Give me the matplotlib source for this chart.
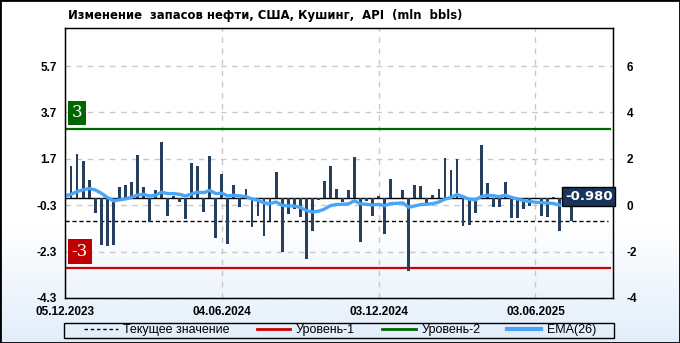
import numpy as np
import pandas as pd
import matplotlib
matplotlib.use("Agg")
import matplotlib.pyplot as plt
from matplotlib.patches import Rectangle
from matplotlib.lines import Line2D
from matplotlib.transforms import blended_transform_factory

title = "Изменение  запасов нефти, США, Кушинг,  API  (mln  bbls)"
start_date = "2023-12-05"

# weekly change, mln bbls
changes = [
    4.30, 1.41, 1.90, 1.59, 0.78, -0.65, -2.03, -2.07, -2.03, 0.50,
    0.56, 0.69, 1.85, 0.50, -1.02, 0.36, 2.41, -0.78, 0.10, -0.17,
    -0.90, 1.51, 1.38, -0.60, 1.81, -1.72, 1.03, -1.98, 0.56, -0.39,
    0.42, -1.25, -0.78, -1.64, -0.96, 1.12, -2.33, -0.69, -0.47, -0.82,
    -2.63, -1.42, -0.08, 0.73, 1.38, 0.42, -0.17, 0.34, 1.77, -1.90,
    -0.13, -0.78, 0.11, -1.55, 0.82, 0.02, 0.34, -3.15, 0.59, 0.52,
    -0.19, 0.13, 0.42, 1.72, 1.21, 1.68, -1.21, -1.16, -0.65, 2.28,
    0.65, -0.39, -0.39, 0.69, -0.86, -0.86, -0.46, -0.34, 0.00, -0.75,
    -0.82, 0.05, -1.42, 0.10, -0.98,
]

ema26 = [
    0.10, 0.17, 0.29, 0.36, 0.42, 0.36, 0.22, 0.04, -0.11, -0.07,
    -0.03, 0.04, 0.14, 0.17, 0.10, 0.13, 0.26, 0.20, 0.20, 0.17,
    0.10, 0.19, 0.26, 0.24, 0.34, 0.20, 0.22, 0.10, 0.13, 0.10,
    0.07, -0.03, -0.09, -0.20, -0.23, -0.16, -0.30, -0.33, -0.33, -0.39,
    -0.53, -0.59, -0.56, -0.47, -0.32, -0.27, -0.26, -0.24, -0.11, -0.24,
    -0.26, -0.29, -0.26, -0.32, -0.23, -0.22, -0.20, -0.39, -0.33, -0.27,
    -0.26, -0.23, -0.16, -0.04, 0.04, 0.16, 0.07, -0.04, -0.07, 0.07,
    0.13, 0.11, 0.07, 0.13, 0.04, -0.03, -0.10, -0.14, -0.17, -0.19,
    -0.20, -0.23, -0.29,
]

current_value = -0.980
level_1 = -3
level_2 = 3

left_ticks = [5.7, 3.7, 1.7, -0.3, -2.3, -4.3]
right_labels = ["6", "4", "2", "0", "-2", "-4"]
x_tick_dates = ["2023-12-05", "2024-06-04", "2024-12-03", "2025-06-03"]

legend_labels = ["Текущее значение", "Уровень-1", "Уровень-2", "EMA(26)"]

dates = pd.date_range(start_date, periods=len(changes), freq="7D")
ema_dates = dates[:len(ema26)]

fig = plt.figure(figsize=(6.8, 3.43), dpi=100)

# soft white -> light blue background
bg = fig.add_axes([0, 0, 1, 1], zorder=-10)
rows = np.arange(343)
t = np.clip((rows - 225) / (343 - 225), 0, 1)
white = np.array([1.0, 1.0, 1.0])
blue = np.array([0.885, 0.93, 0.985])
grad = white + (blue - white) * t[:, None]
bg.imshow(grad[:, None, :], aspect="auto", extent=[0, 1, 0, 1])
bg.axis("off")

ax = fig.add_axes([65 / 680, 45 / 343, 548 / 680, 270 / 343])
ax.set_facecolor("none")

ax.bar(dates, changes, width=3.3, color="#263F5E", zorder=3)
ax.plot(ema_dates, ema26, color="#4AA5F7", lw=2.4, zorder=4)

ax.axhline(0, color="black", lw=1, zorder=2.5)
ax.axhline(current_value, color="black", lw=1, ls=(0, (3, 2)), xmax=0.99, zorder=2.5)
ax.axhline(level_1, color="#CC0000", lw=1.6, xmax=0.995, zorder=2.5)
ax.axhline(level_2, color="#006600", lw=1.6, xmax=0.995, zorder=2.5)

ax.set_ylim(-4.3, 7.34)
ax.set_xlim(dates[0], dates[0] + pd.Timedelta(days=636))

xt = pd.to_datetime(x_tick_dates)
ax.set_xticks(xt, labels=[d.strftime("%d.%m.%Y") for d in xt])
ax.set_yticks(left_ticks, labels=[f"{v:.1f}" for v in left_ticks])
ax.set_axisbelow(True)
ax.grid(True, color="#C8C8C8", ls=(0, (4, 4)), lw=1)
ax.tick_params(axis="both", length=0, labelsize=8.5)
ax.tick_params(axis="y", pad=6)
ax.tick_params(axis="x", pad=5.5)
for lab in ax.get_xticklabels() + ax.get_yticklabels():
    lab.set_fontweight("bold")
    lab.set_family("Liberation Sans")
for sp in ax.spines.values():
    sp.set_linewidth(1)

ax2 = ax.twinx()
ax2.set_ylim(ax.get_ylim())
ax2.set_yticks(left_ticks, labels=right_labels)
ax2.tick_params(axis="y", length=0, labelsize=8.5, pad=10)
for lab in ax2.get_yticklabels():
    lab.set_fontweight("bold")
    lab.set_family("Liberation Sans")

trans = blended_transform_factory(ax.transAxes, ax.transData)
ax2.text(0.022, 3.68, "3", transform=trans, ha="center", va="center",
         color="white", fontsize=12, family="DejaVu Serif", zorder=10,
         bbox=dict(boxstyle="square,pad=0.22", fc="#006600", ec="none"))
ax2.text(0.027, -2.29, "-3", transform=trans, ha="center", va="center",
         color="white", fontsize=12, family="DejaVu Serif", zorder=10,
         bbox=dict(boxstyle="square,pad=0.22", fc="#C00000", ec="none"))
ax2.text(0.956, 0.07, "%.3f" % current_value, transform=trans, ha="center",
         va="center", color="white", fontsize=9.5, fontweight="bold",
         clip_on=False, zorder=10,
         bbox=dict(boxstyle="square,pad=0.2", fc="#1A355C", ec="black", lw=1))

handles = [
    Line2D([], [], color="black", lw=1, ls=(0, (2.5, 2))),
    Line2D([], [], color="#CC0000", lw=2),
    Line2D([], [], color="#006600", lw=2),
    Line2D([], [], color="#4AA5F7", lw=3),
]
fig.legend(handles, legend_labels, loc="center",
           bbox_to_anchor=(340 / 680, 1 - 330 / 343), ncol=4,
           frameon=False, prop={"family": "Liberation Sans", "size": 9},
           handlelength=2.7, columnspacing=2.15, handletextpad=0.45,
           borderpad=0.1)
# legend frame
fig.patches.append(Rectangle((64 / 680, 1 - 338 / 343), 550 / 680, 15 / 343,
                             transform=fig.transFigure, fill=False,
                             ec="black", lw=1))

fig.text(68 / 680, 1 - 16 / 343, title, fontsize=8.4, fontweight="bold",
         va="center", ha="left")

fig.patches.append(Rectangle((0, 0), 1, 1, transform=fig.transFigure,
                             fill=False, ec="black", lw=2))

fig.savefig("out.png", dpi=100)
